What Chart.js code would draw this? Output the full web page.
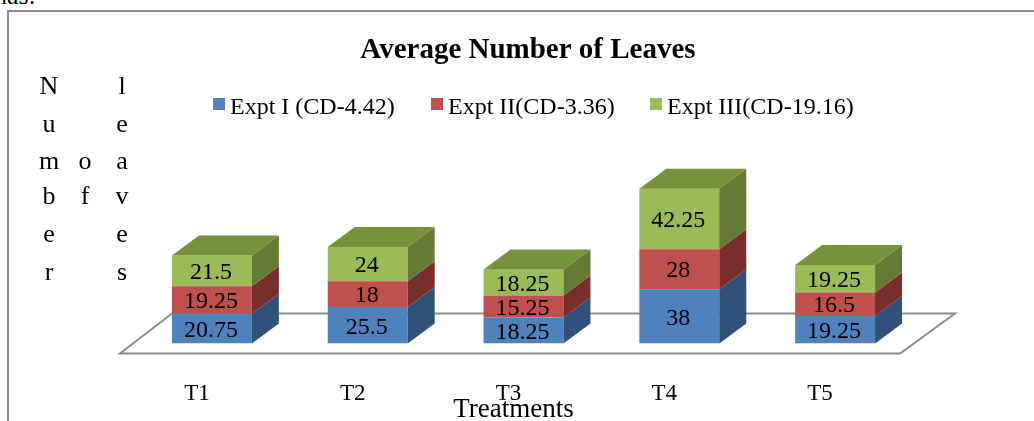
<!DOCTYPE html>
<html>
<head>
<meta charset="utf-8">
<title>Average Number of Leaves</title>
<script src="https://cdn.jsdelivr.net/npm/chart.js@4"></script>
<style>
  html, body { margin: 0; padding: 0; background: #fff; overflow: hidden; }
  #wrap { position: relative; width: 1034px; height: 421px; overflow: hidden; font-family: "Liberation Serif", serif; color: #000; }
  #frame { position: absolute; left: 7px; top: 10px; right: -5px; bottom: -5px; border-left: 2px solid #8c8c8c; border-top: 2px solid #8c8c8c; }
  #cut { position: absolute; left: -6px; top: -19px; font-size: 26px; line-height: 30px; }
  #grafica { position: absolute; left: 0; top: 0; }
  #leyenda span { position: absolute; top: 92px; font-size: 24px; line-height: 28px; white-space: nowrap; }
  #leyenda i { display: inline-block; width: 12px; height: 12px; margin-right: 5px; position: relative; top: -4px; }
</style>
</head>
<body>
<div id="wrap">
  <div id="frame"></div>
  <div id="cut">has.</div>
  <canvas id="grafica" width="1034" height="421"></canvas>
  <div id="leyenda"></div>
</div>
<script>
const tratamientos = ["T1", "T2", "T3", "T4", "T5"];
const exptI = [20.75, 25.5, 18.25, 38, 19.25];
const exptII = [19.25, 18, 15.25, 28, 16.5];
const exptIII = [21.5, 24, 18.25, 42.25, 19.25];
const nombres = ["Expt I (CD-4.42)", "Expt II(CD-3.36)", "Expt III(CD-19.16)"];
const titulo = "Average Number of Leaves";
const tituloX = "Treatments";

const colores = ["#4f81bd", "#c0504d", "#9bbb59"];
const coloresLado = ["#315278", "#772f2e", "#647a36"];
const colorTecho = "#76933c";
const fuente = '"Liberation Serif", serif';

// el grafico es 3D en el original, la profundidad se saca de cada barra
const fondoX = 27;
const fondoY = 20;

// letras del titulo vertical, tres columnas
const filasY = [87, 125, 162, 197, 235, 273];
const columnasY = [
  { x: 49, letras: ["N", "u", "m", "b", "e", "r"] },
  { x: 85, letras: ["", "", "o", "f", "", ""] },
  { x: 122, letras: ["l", "e", "a", "v", "e", "s"] },
];

function poligono(ctx, puntos, color) {
  ctx.fillStyle = color;
  ctx.beginPath();
  puntos.forEach((p, i) => (i ? ctx.lineTo(p[0], p[1]) : ctx.moveTo(p[0], p[1])));
  ctx.closePath();
  ctx.fill();
}

const plugin3d = {
  id: "plugin3d",
  afterLayout(chart) {
    // el titulo no esta centrado sobre las barras
    chart.titleBlock.left += 4.5;
    chart.titleBlock.right += 4.5;
  },
  beforeDatasetsDraw(chart) {
    const ctx = chart.ctx;
    const area = chart.chartArea;
    const base = chart.scales.y.getPixelForValue(0);
    // piso
    ctx.save();
    ctx.strokeStyle = "#8c8c8c";
    ctx.lineWidth = 2;
    ctx.beginPath();
    ctx.moveTo(area.left - 14, base + 10);
    ctx.lineTo(area.right - 13, base + 10);
    ctx.lineTo(area.right + 42, base - 30);
    ctx.lineTo(area.left + 38, base - 30);
    ctx.closePath();
    ctx.stroke();
    ctx.restore();
  },
  afterDatasetsDraw(chart) {
    const ctx = chart.ctx;
    const nSeries = chart.data.datasets.length;
    chart.data.datasets.forEach((ds, d) => {
      chart.getDatasetMeta(d).data.forEach((bar) => {
        const der = bar.x + bar.width / 2;
        const izq = bar.x - bar.width / 2;
        poligono(ctx, [
          [der, bar.y],
          [der + fondoX, bar.y - fondoY],
          [der + fondoX, bar.base - fondoY],
          [der, bar.base],
        ], coloresLado[d]);
        if (d === nSeries - 1) {
          poligono(ctx, [
            [izq, bar.y],
            [izq + fondoX, bar.y - fondoY],
            [der + fondoX, bar.y - fondoY],
            [der, bar.y],
          ], colorTecho);
        }
      });
    });
    // etiquetas de valores
    ctx.save();
    ctx.fillStyle = "#000";
    ctx.font = "24px " + fuente;
    ctx.textAlign = "center";
    ctx.textBaseline = "middle";
    chart.data.datasets.forEach((ds, d) => {
      chart.getDatasetMeta(d).data.forEach((bar, i) => {
        ctx.fillText(String(ds.data[i]), bar.x - 1, (bar.y + bar.base) / 2 + 2);
      });
    });
    // titulo vertical y titulo del eje x
    ctx.font = "26px " + fuente;
    columnasY.forEach((col) => {
      col.letras.forEach((letra, i) => {
        if (letra) ctx.fillText(letra, col.x, filasY[i]);
      });
    });
    ctx.font = "27px " + fuente;
    ctx.fillText(tituloX, 513.5, 410);
    ctx.restore();
  },
};

const grafica = new Chart(document.getElementById("grafica"), {
  type: "bar",
  data: {
    labels: tratamientos,
    datasets: [
      { label: nombres[0], data: exptI, backgroundColor: colores[0] },
      { label: nombres[1], data: exptII, backgroundColor: colores[1] },
      { label: nombres[2], data: exptIII, backgroundColor: colores[2] },
    ],
  },
  options: {
    responsive: false,
    animation: false,
    layout: { padding: { left: 134, right: 121, top: 33.4, bottom: 16 } },
    datasets: { bar: { barPercentage: 1, categoryPercentage: 0.513 } },
    plugins: {
      legend: { display: false },
      tooltip: { enabled: false },
      title: {
        display: true,
        text: titulo,
        color: "#000",
        font: { family: fuente, size: 29, weight: "bold" },
        padding: { top: 0, bottom: 103.8 },
      },
    },
    scales: {
      x: {
        stacked: true,
        grid: { display: false, drawTicks: false },
        border: { display: false },
        // chart.js cuenta el padding dos veces, se deja la altura justa
        afterFit(scale) { scale.height = 61.5; },
        ticks: {
          color: "#000",
          font: { family: fuente, size: 23 },
          padding: 37,
          labelOffset: -15,
          maxRotation: 0,
        },
      },
      y: { stacked: true, display: false, min: 0, max: 120 },
    },
  },
  plugins: [plugin3d],
});

// leyenda en html para dejar el cuadro pegado al texto
const posLeyenda = [213, 431, 650];
const leyenda = document.getElementById("leyenda");
grafica.data.datasets.forEach((ds, i) => {
  const item = document.createElement("span");
  item.style.left = posLeyenda[i] + "px";
  const cuadro = document.createElement("i");
  cuadro.style.background = ds.backgroundColor;
  item.appendChild(cuadro);
  item.appendChild(document.createTextNode(ds.label));
  leyenda.appendChild(item);
});
</script>
</body>
</html>
